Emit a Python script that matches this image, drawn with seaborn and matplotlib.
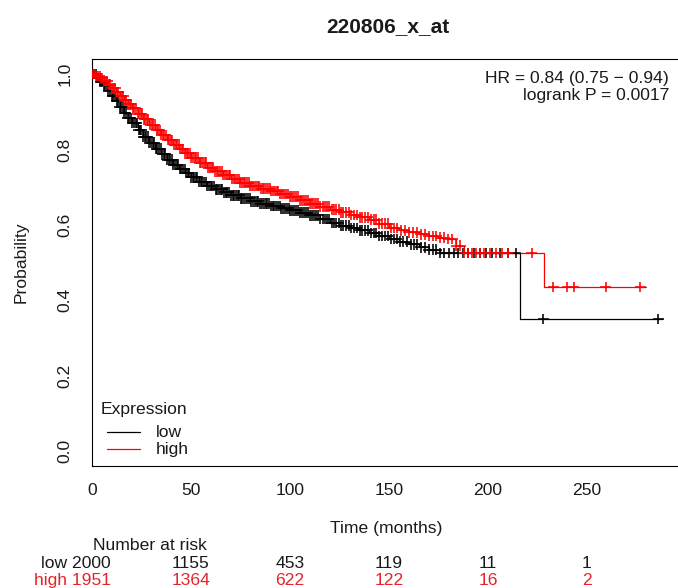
import numpy as np
import pandas as pd
import seaborn as sns
import matplotlib.pyplot as plt
import matplotlib.transforms as mtransforms

# Kaplan-Meier step curves (time in months, survival probability)
low_t = [0, 2, 4, 6, 8, 10, 12, 14, 16, 18, 20, 23, 26, 29, 32, 35, 38, 41, 44, 47,
         50, 54, 58, 62, 66, 70, 75, 80, 85, 90, 95, 100, 105, 110, 115, 120, 125, 130,
         135, 140, 145, 150, 155, 160, 165, 170, 176, 216, 288]
low_s = [1.0, 0.99, 0.98, 0.97, 0.956, 0.942, 0.928, 0.913, 0.898, 0.884, 0.87, 0.852,
         0.834, 0.818, 0.802, 0.787, 0.773, 0.76, 0.748, 0.737, 0.726, 0.714, 0.703,
         0.694, 0.686, 0.678, 0.67, 0.662, 0.656, 0.65, 0.644, 0.638, 0.632, 0.625,
         0.615, 0.605, 0.598, 0.592, 0.585, 0.578, 0.57, 0.562, 0.555, 0.548, 0.54,
         0.534, 0.525, 0.35, 0.35]

high_t = [0, 2, 4, 6, 8, 10, 12, 14, 16, 18, 20, 23, 26, 29, 32, 35, 38, 41, 44, 47,
          50, 54, 58, 62, 66, 70, 75, 80, 85, 90, 95, 100, 105, 110, 115, 120, 125, 130,
          135, 140, 145, 150, 155, 160, 165, 170, 175, 180, 184, 188, 228.5, 280]
high_s = [1.0, 0.995, 0.99, 0.982, 0.972, 0.962, 0.952, 0.941, 0.93, 0.92, 0.91, 0.895,
          0.88, 0.866, 0.852, 0.838, 0.825, 0.813, 0.801, 0.79, 0.778, 0.765, 0.752,
          0.742, 0.732, 0.722, 0.712, 0.703, 0.696, 0.69, 0.682, 0.675, 0.665, 0.656,
          0.648, 0.64, 0.633, 0.626, 0.62, 0.614, 0.603, 0.592, 0.585, 0.58, 0.575,
          0.57, 0.566, 0.562, 0.545, 0.525, 0.435, 0.435]

# censoring times (the "+" marks), dense up to ~150 months
low_cens = [1, 1.8, 2.6, 3.5, 4.2, 5, 6, 6.8, 7.5, 8.3, 9, 10, 10.7, 11.5, 12.4, 13, 14,
            14.8, 15.5, 16.3, 17, 18, 18.8, 19.5, 20.4, 21, 22, 22.7, 23.5, 24.3, 25,
            26, 26.6, 27.4, 28.2, 29, 30, 30.6, 31.5, 32.3, 33, 34, 34.7, 35.5, 36.4,
            37, 38, 38.8, 39.5, 40.3, 41, 42, 42.7, 43.5, 44.4, 45, 46, 46.8, 47.5, 48.3,
            49, 50, 50.8, 51.6, 52.4, 53.2, 54, 55, 55.7, 56.5, 57.4, 58.2, 59, 60,
            60.8, 61.6, 62.5, 63.3, 64, 65, 65.8, 66.6, 67.5, 68.4, 69.2, 70, 71, 71.8,
            72.7, 73.5, 74.4, 75.3, 76, 77, 78, 78.8, 79.7, 80.5, 81.4, 82.3, 83.2, 84,
            85, 86, 86.8, 87.7, 88.5, 89.4, 90.3, 91.2, 92, 93, 94, 94.8, 95.7, 96.6,
            97.5, 98.4, 99.3, 100.2, 101, 102, 103, 104, 105, 106, 107, 108, 109, 110,
            111, 112, 113.2, 114.3, 115.4, 116.5, 117.6, 118.7, 119.8, 121, 122.2, 123.4,
            124.6, 125.8, 127, 128.3, 129.6, 131, 132.4, 133.8, 135.2, 136.6, 138, 139.4,
            140.8, 142.2, 143.6, 145, 146.5, 148, 149.5, 151, 152.5, 154, 155.5, 157,
            159, 161, 162.5, 164, 166, 168, 170, 172, 174, 176, 178, 180.5, 183, 185,
            187.5, 190, 193, 196, 199, 202, 206, 210, 214, 228, 286]
high_cens = [0.6, 1.4, 2.2, 3, 3.8, 4.5, 5.3, 6.2, 7, 7.8, 8.5, 9.3, 10.2, 11, 11.8,
             12.5, 13.3, 14.2, 15, 15.8, 16.5, 17.3, 18.2, 19, 19.8, 20.5, 21.3, 22.2,
             23, 23.8, 24.5, 25.3, 26.2, 27, 27.8, 28.5, 29.3, 30.2, 31, 31.8, 32.6,
             33.4, 34.2, 35, 35.8, 36.6, 37.4, 38.2, 39, 39.8, 40.6, 41.4, 42.2, 43,
             43.8, 44.6, 45.4, 46.2, 47, 47.8, 48.6, 49.4, 50.2, 51, 51.8, 52.6, 53.5,
             54.4, 55.2, 56, 56.9, 57.8, 58.6, 59.5, 60.4, 61.2, 62, 63, 63.8, 64.6,
             65.5, 66.4, 67.2, 68, 69, 69.8, 70.6, 71.5, 72.4, 73.2, 74, 75, 75.8, 76.6,
             77.5, 78.4, 79.2, 80, 81, 81.8, 82.7, 83.6, 84.4, 85.3, 86.2, 87, 88, 88.8,
             89.7, 90.6, 91.5, 92.4, 93.3, 94.2, 95, 96, 97, 98, 99, 100, 101, 102, 103,
             104, 105, 106, 107, 108, 109, 110, 111, 112.1, 113.2, 114.3, 115.4, 116.5,
             117.6, 118.7, 119.8, 121, 122.2, 123.4, 124.6, 125.8, 127, 128.3, 129.6, 131,
             132.4, 133.8, 135.2, 136.6, 138, 139.4, 140.8, 142.2, 143.6, 145, 146.5, 148,
             149.5, 151, 152.5, 154, 156, 158, 160, 162, 164, 166, 168, 170, 172, 174,
             176, 178, 180, 182, 184, 186, 188, 190, 192, 194, 196, 198, 201, 204, 207,
             210, 222, 233, 240, 243.5, 259.5, 277]

# number at risk table
risk_times = [0, 50, 100, 150, 200, 250]
low_risk = [2000, 1155, 453, 119, 11, 1]
high_risk = [1951, 1364, 622, 122, 16, 2]

title = "220806_x_at"
hr_text = "HR = 0.84 (0.75 \u2212 0.94)"
p_text = "logrank P = 0.0017"

sns.set_theme(style="white")
plt.rcParams["font.family"] = ["Liberation Sans", "DejaVu Sans"]
plt.rcParams["text.color"] = "#1a1a1a"

FS = 12.6
RED = "#ff0000"
TXT_RED = "#e3242b"
palette = {"low": "black", "high": RED}

W, H = 678, 588
fig = plt.figure(figsize=(W / 100, H / 100), dpi=100)
ax = fig.add_axes([92 / W, (H - 466) / H, (680 - 92) / W, (466 - 59) / H])


def step_at(ts, ss, c):
    idx = np.searchsorted(ts, c, side="right") - 1
    return np.asarray(ss)[idx]


curves = pd.concat([
    pd.DataFrame({"time": low_t, "prob": low_s, "group": "low"}),
    pd.DataFrame({"time": high_t, "prob": high_s, "group": "high"}),
], ignore_index=True)
cens = pd.concat([
    pd.DataFrame({"time": low_cens, "prob": step_at(low_t, low_s, low_cens), "group": "low"}),
    pd.DataFrame({"time": high_cens, "prob": step_at(high_t, high_s, high_cens), "group": "high"}),
], ignore_index=True)

sns.lineplot(data=curves, x="time", y="prob", hue="group", palette=palette,
             drawstyle="steps-post", estimator=None, sort=False, linewidth=0.9,
             legend=False, ax=ax)
sns.scatterplot(data=cens, x="time", y="prob", hue="group", palette=palette,
                marker="+", s=58, linewidth=1.15, legend=False, ax=ax, zorder=3)

ax.set_xlim(0, 297)
ax.set_ylim(-0.04, 1.04)
ax.set_xticks(risk_times)
ax.set_xticklabels([str(t) for t in risk_times], fontsize=FS)
yt = [0.0, 0.2, 0.4, 0.6, 0.8, 1.0]
ax.set_yticks(yt)
ax.set_yticklabels([f"{v:.1f}" for v in yt], fontsize=FS, rotation=90, va="center")
ax.tick_params(axis="x", direction="out", length=7, width=0.8, pad=5,
               colors="black", labelcolor="#1a1a1a")
ax.tick_params(axis="y", direction="out", length=8, width=0.8, pad=6,
               colors="black", labelcolor="#1a1a1a")
ax.set_xlabel("")
ax.set_ylabel("")
for sp in ax.spines.values():
    sp.set_color("black")
    sp.set_linewidth(0.8)

# title, axis labels
fig.text(388 / W, 1 - 32 / H, title, ha="center", va="baseline", fontsize=15, fontweight="bold")
fig.text(386 / W, 1 - 533 / H, "Time (months)", ha="center", va="baseline", fontsize=FS)
fig.text(21 / W, 1 - 262 / H, "Probability", ha="center", va="center", rotation=90, fontsize=FS)

# HR annotation
for txt, yb in [(hr_text, 83), (p_text, 100)]:
    fig.text(669 / W, 1 - yb / H, txt, ha="right", va="baseline", fontsize=FS)

# legend drawn R-style
fig.text(101 / W, 1 - 414 / H, "Expression", ha="left", va="baseline", fontsize=FS)
for grp, yl, yb in [("low", 432, 437), ("high", 449, 454)]:
    fig.add_artist(plt.Line2D([107 / W, 140 / W], [1 - yl / H, 1 - yl / H],
                              color=palette[grp], linewidth=0.9))
    fig.text(156 / W, 1 - yb / H, grp, ha="left", va="baseline", fontsize=FS)

# number at risk table
blend = mtransforms.blended_transform_factory(ax.transData, fig.transFigure)
fig.text(150 / W, 1 - 550 / H, "Number at risk", ha="center", va="baseline", fontsize=FS)
for name, vals, yb, col in [("low", low_risk, 568, "#1a1a1a"), ("high", high_risk, 585, TXT_RED)]:
    ax.text((111 - 92) / 1.98, 1 - yb / H, f"{name} {vals[0]}", transform=blend,
            ha="right", va="baseline", fontsize=FS, color=col, clip_on=False)
    for t, v in zip(risk_times[1:], vals[1:]):
        ax.text(t, 1 - yb / H, str(v), transform=blend, ha="center", va="baseline",
                fontsize=FS, color=col, clip_on=False)

fig.savefig("out.png", dpi=100)
